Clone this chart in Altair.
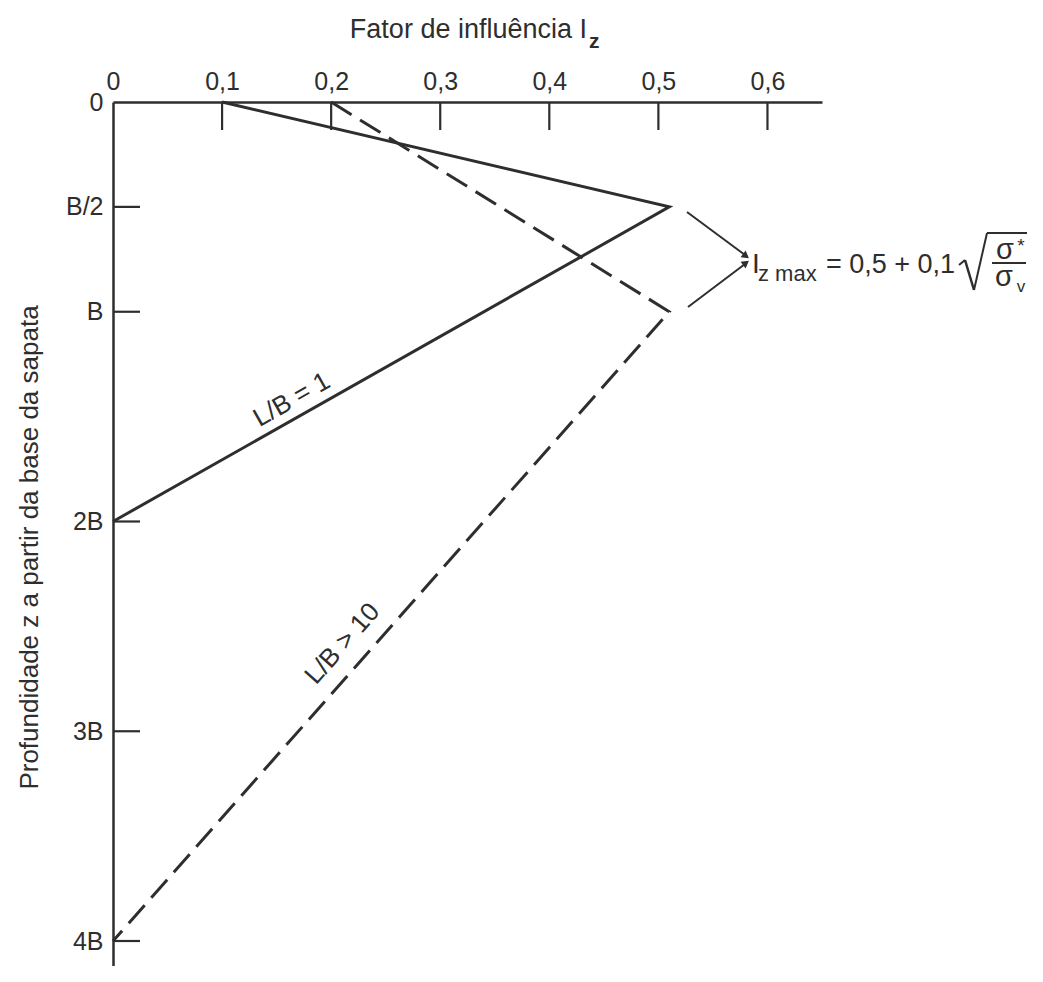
import altair as alt
import pandas as pd

# ---------------- data ----------------
solid_x = [0.1, 0.51, 0.0]          # L/B = 1
solid_z = [0.0, 0.5, 2.0]
dashed_x = [0.2, 0.51, 0.0]         # L/B > 10
dashed_z = [0.0, 1.0, 4.0]

x_axis_values = [0.0, 0.1, 0.2, 0.3, 0.4, 0.5, 0.6]
x_tick_values = [0.1, 0.2, 0.3, 0.4, 0.5, 0.6]
z_axis_values = [0.0, 0.5, 1.0, 2.0, 3.0, 4.0]
z_tick_values = [0.5, 1.0, 2.0, 3.0, 4.0]
z_tick_labels = ["0", "B/2", "B", "2B", "3B", "4B"]

label_solid = "L/B = 1"
label_dashed = "L/B > 10"
x_title = "Fator de influência I"
y_title = "Profundidade z a partir da base da sapata"

# ---------------- style ----------------
FONT = "Liberation Sans"
INK = "#2e2e2e"
W, H = 709, 864
X_DOMAIN = [0, 0.65]
Z_DOMAIN = [0, H / 209.75]

solid_df = pd.DataFrame({"x": solid_x, "z": solid_z, "o": range(len(solid_x))})
dashed_df = pd.DataFrame({"x": dashed_x, "z": dashed_z, "o": range(len(dashed_x))})

label_expr_z = " : ".join(
    [f"datum.value == {v} ? '{l}'" for v, l in zip(z_axis_values, z_tick_labels)]
) + " : ''"

xscale = alt.Scale(domain=X_DOMAIN, nice=False, zero=False)
zscale = alt.Scale(domain=Z_DOMAIN, nice=False, zero=False, reverse=True)

x_enc = alt.X(
    "x:Q", scale=xscale,
    axis=alt.Axis(
        orient="top", values=x_axis_values, title=None,
        labelExpr="datum.value == 0 ? '0' : replace(format(datum.value, '.1f'), '.', ',')",
        labelPadding=8, labelFlush=False, labelOverlap=False, labelBound=False,
    ),
)
z_enc = alt.Y(
    "z:Q", scale=zscale,
    axis=alt.Axis(
        orient="left", values=z_axis_values, title=y_title,
        labelExpr=label_expr_z, labelPadding=10, labelFlush=False,
        labelOverlap=False, labelBound=False,
        titleX=-84, titleY=445, titleAngle=270, titleAlign="center",
        titleBaseline="middle", titleFontSize=26, titleFontWeight="normal",
        titleFont=FONT, titleColor=INK,
    ),
)

solid = alt.Chart(solid_df).mark_line(color=INK, strokeWidth=3).encode(
    x=x_enc, y=z_enc, order="o:Q"
)
dashed = alt.Chart(dashed_df).mark_line(color=INK, strokeWidth=3, strokeDash=[24, 10]).encode(
    x=alt.X("x:Q", scale=xscale), y=alt.Y("z:Q", scale=zscale), order="o:Q"
)

# inward ticks
xt = alt.Chart(pd.DataFrame({"x": x_tick_values})).mark_rule(color=INK, strokeWidth=2.2).encode(
    x=alt.X("x:Q", scale=xscale), y=alt.value(0), y2=alt.value(28)
)
zt = alt.Chart(pd.DataFrame({"z": z_tick_values})).mark_rule(color=INK, strokeWidth=2.2).encode(
    y=alt.Y("z:Q", scale=zscale), x=alt.value(0), x2=alt.value(27)
)

# line labels (data coordinates on the lines)
lab1 = alt.Chart(pd.DataFrame({"x": [0.172], "z": [1.494], "t": [label_solid]})).mark_text(
    font=FONT, fontSize=26, color=INK, angle=330.5, align="center", baseline="middle", dy=-18
).encode(x=alt.X("x:Q", scale=xscale), y=alt.Y("z:Q", scale=zscale), text="t:N")
lab2 = alt.Chart(pd.DataFrame({"x": [0.2275], "z": [2.662], "t": [label_dashed]})).mark_text(
    font=FONT, fontSize=26, color=INK, angle=311.5, align="center", baseline="middle", dy=-25
).encode(x=alt.X("x:Q", scale=xscale), y=alt.Y("z:Q", scale=zscale), text="t:N")


def txt(s, x, y, size, align="left", weight="normal", baseline="alphabetic"):
    return alt.Chart(pd.DataFrame({"t": [s]})).mark_text(
        font=FONT, fontSize=size, color=INK, align=align, baseline=baseline, fontWeight=weight
    ).encode(x=alt.value(x), y=alt.value(y), text="t:N")


def seg(x1, y1, x2, y2, w=2.0):
    return alt.Chart(pd.DataFrame({"a": [0]})).mark_rule(color=INK, strokeWidth=w).encode(
        x=alt.value(x1), y=alt.value(y1), x2=alt.value(x2), y2=alt.value(y2)
    )


def head(x, y, ang):
    return alt.Chart(pd.DataFrame({"a": [0]})).mark_point(
        shape="triangle-right", filled=True, size=70, color=INK, opacity=1, angle=ang
    ).encode(x=alt.value(x), y=alt.value(y))


layers = [
    solid, dashed, xt, zt, lab1, lab2,
    # x title with subscript
    txt(x_title, 474, -64, 27, align="right"),
    txt("z", 476, -54, 21, weight="bold"),
    # arrows
    seg(574, 110, 632, 153), seg(575, 205, 632, 162),
    head(633, 154, 37), head(633, 161, 323),
    # formula
    txt("I", 639, 171, 28),
    txt("z max", 645, 179, 22),
    txt("= 0,5 + 0,1", 713, 171, 27),
    seg(846, 163, 852, 158, 2), seg(852, 158, 861, 188, 2.5),
    seg(861, 188, 874, 131, 2), seg(874, 131, 915, 131, 2),
    seg(879, 161, 913, 161, 2),
    txt("σ", 892, 157, 29, align="center"),
    txt("*", 908, 150, 19, align="center"),
    txt("σ", 891, 184, 29, align="center"),
    txt("v", 908, 190, 17, align="center"),
]

chart = alt.layer(*layers).properties(
    width=W, height=H,
    autosize=alt.AutoSizeParams(type="none"),
    padding={"left": 105, "top": 94, "right": 205, "bottom": 0},
    background="white",
).configure_view(stroke=None).configure_axis(
    domainColor=INK, domainWidth=2.5, ticks=False, grid=False,
    labelFont=FONT, labelFontSize=25, labelColor=INK,
)

chart.save("out.html", embed_options={"renderer": "svg", "actions": False})
